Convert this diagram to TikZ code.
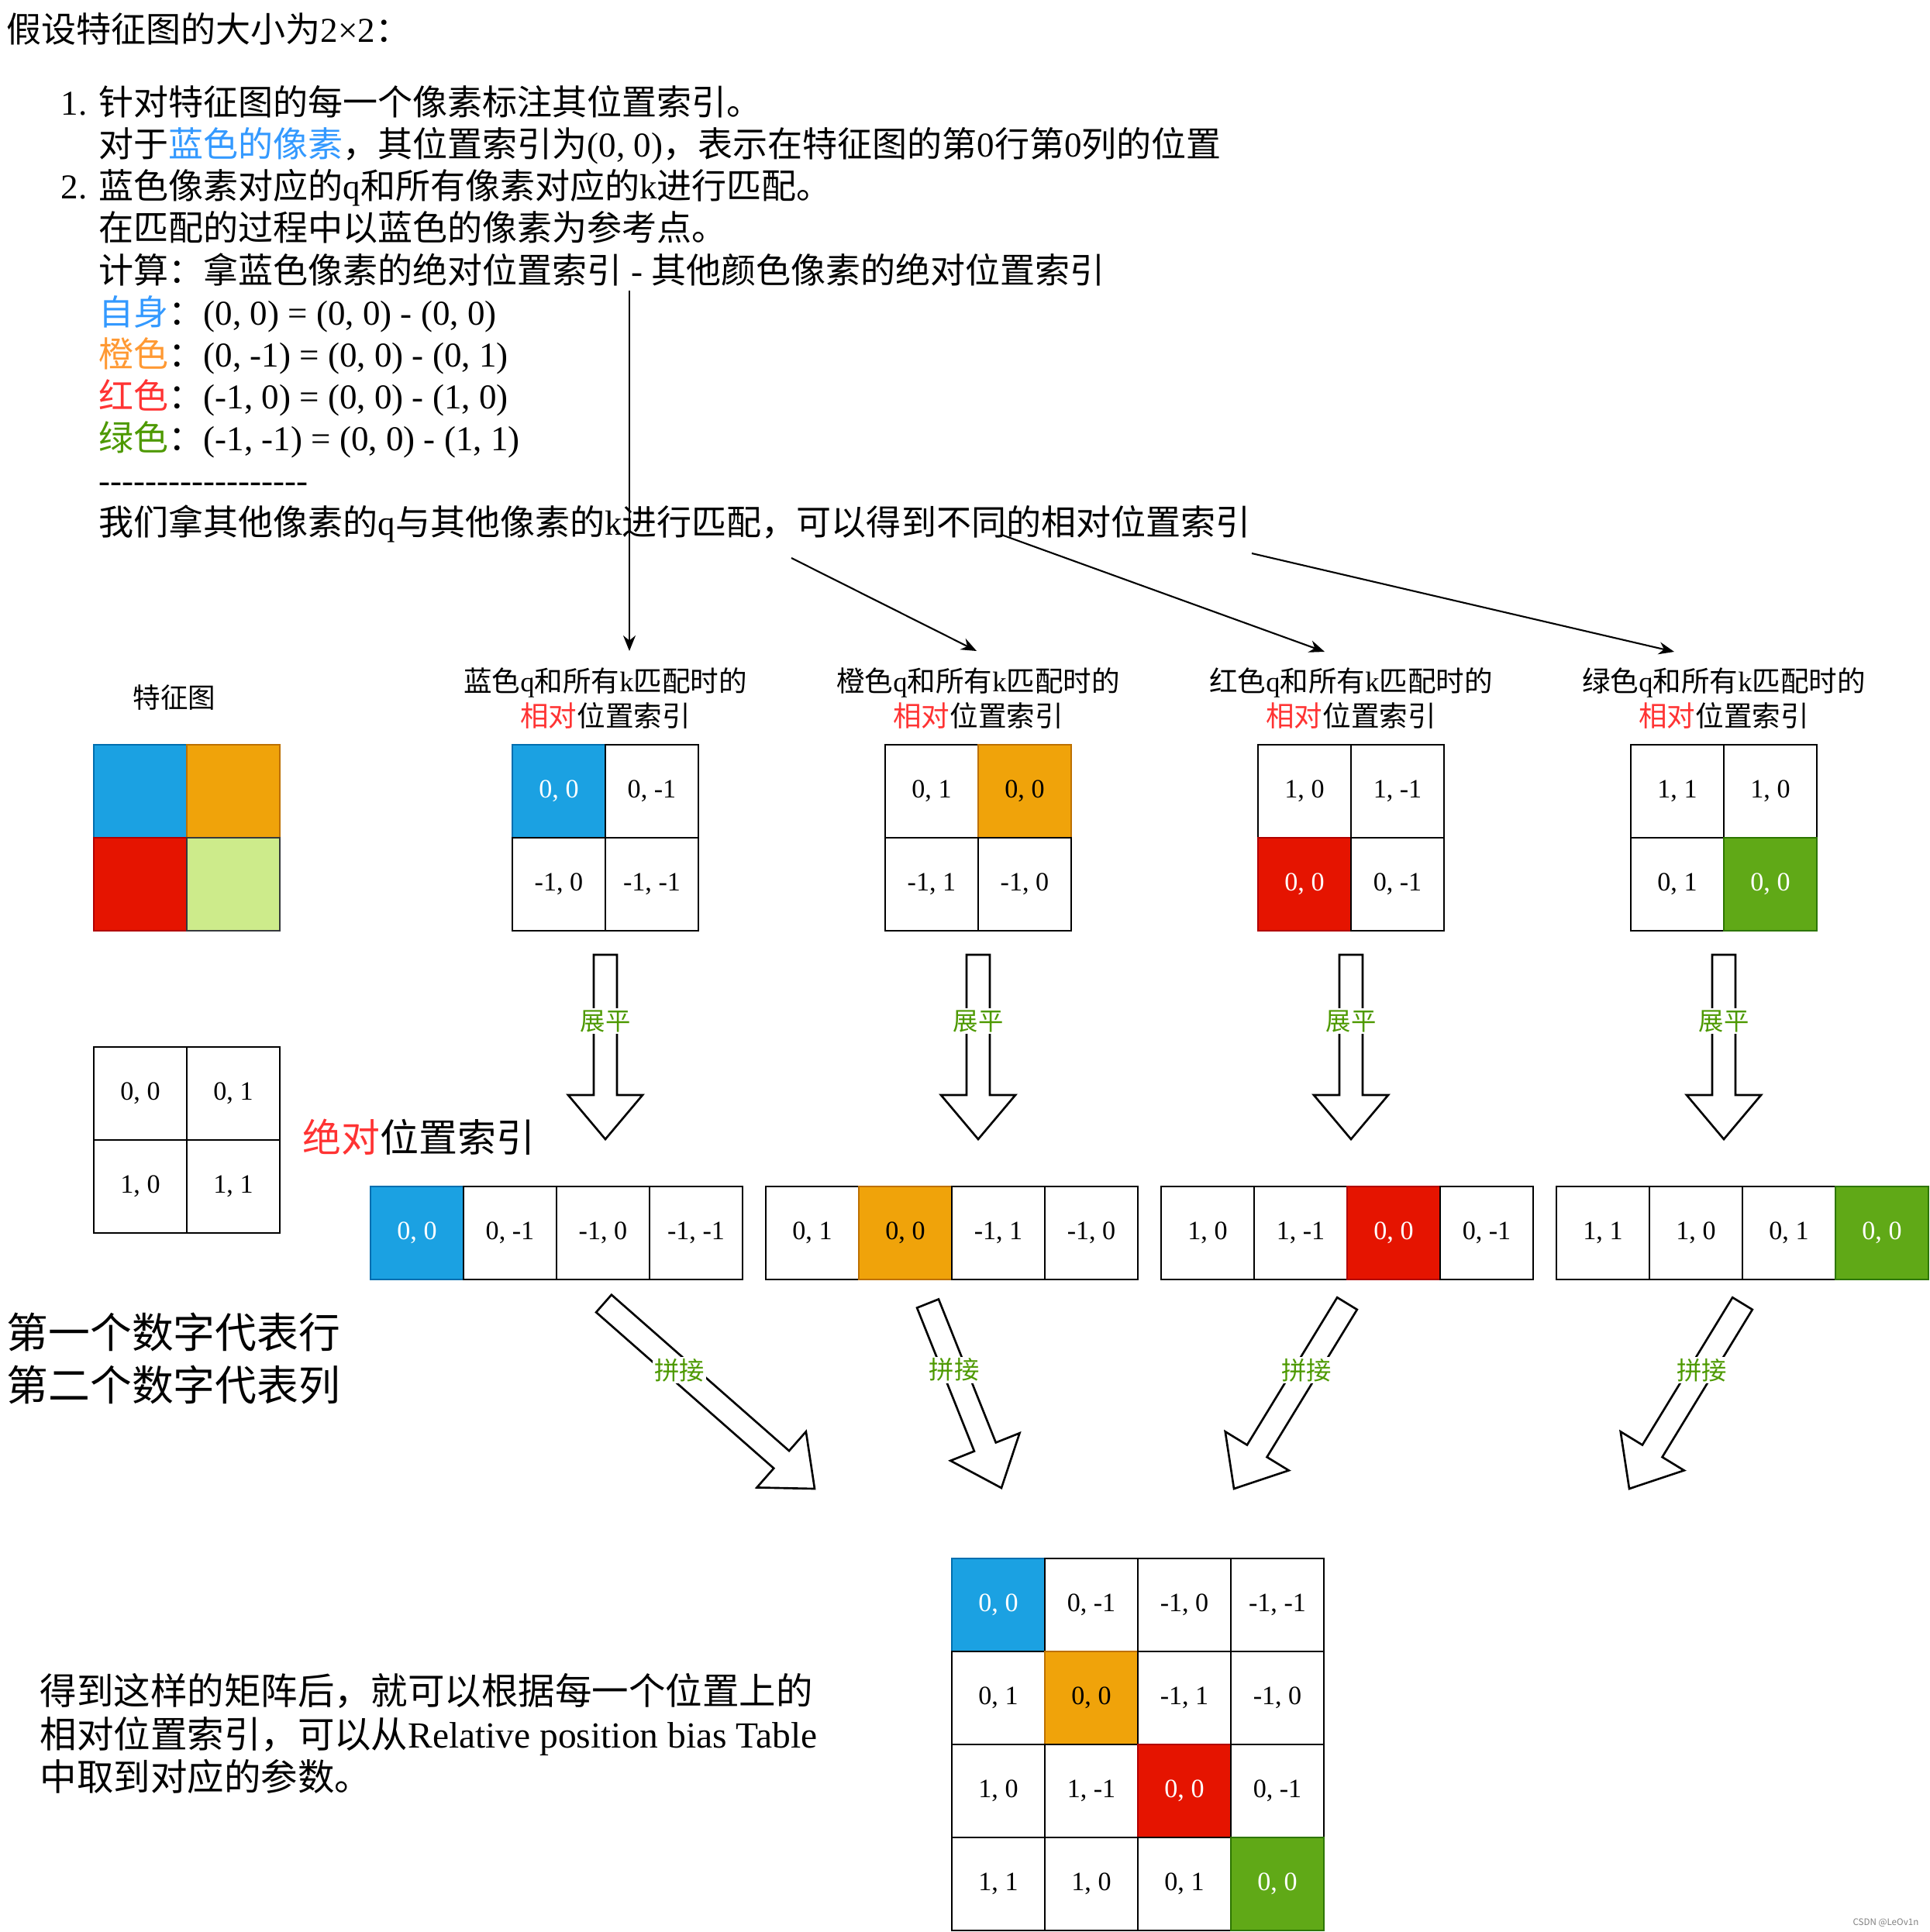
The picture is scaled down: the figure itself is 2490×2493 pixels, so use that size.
\documentclass[tikz,border=0pt]{standalone}
\usepackage{fontspec}
\setmainfont{Noto Sans CJK SC}
\newfontfamily\tnr{Liberation Serif}
\usepackage{xcolor}
\usepackage{tikz}
\usetikzlibrary{arrows.meta,calc}
\definecolor{zblue}{HTML}{3399FF}
\definecolor{zorange}{HTML}{FF9933}
\definecolor{zred}{HTML}{FF3333}
\definecolor{zgreen}{HTML}{4D9900}
\definecolor{F0}{HTML}{1BA1E2}\definecolor{E0}{HTML}{006EAF}\colorlet{T0}{white}
\definecolor{F1}{HTML}{F0A30A}\definecolor{E1}{HTML}{BD7000}\colorlet{T1}{black}
\definecolor{F2}{HTML}{E51400}\definecolor{E2}{HTML}{B20000}\colorlet{T2}{white}
\definecolor{F3}{HTML}{60A917}\definecolor{E3}{HTML}{2D7600}\colorlet{T3}{white}
\definecolor{Lime}{HTML}{CDEB8B}\definecolor{LimeEdge}{HTML}{36393D}
\newcommand\en[1]{{\tnr #1}}
\newcommand\fsz[2]{\fontsize{#1}{#2}\selectfont}
\tikzset{
  cell/.style={
    draw, line width=.75pt, minimum size=1.2cm, inner sep=0pt,
    font=\tnr\fsz{9.7}{11}
  },
  hot0/.style={},
  hot1/.style={fill=F#1,draw=E#1,text=T#1},
  swatch/.style={draw, line width=.75pt, minimum size=1.2cm, inner sep=0pt},
  head/.style={align=center, inner sep=0pt, font=\fsz{10.4}{12.8}},
  txt/.style={align=left, anchor=west, inner sep=0pt},
  tag/.style={fill=white, text=zgreen, inner sep=.6pt, font=\fsz{9.2}{11}},
  fat/.style={draw, fill=white, line width=.75pt},
  pointer/.style={-{Stealth[length=2mm,width=1.6mm]},line width=.6pt}
}
% hollow block arrow from #1 (tail) to #2 (tip), label #3
\newcommand\fatarrow[3]{%
  \coordinate (#1h) at ($(#2)!.57cm!(#1)$);
  \draw[fat] ($(#1)!.15cm!90:(#2)$) -- ($(#1h)!.15cm!90:(#2)$)
    -- ($(#1h)!.48cm!90:(#2)$) -- (#2) -- ($(#1h)!.48cm!-90:(#2)$)
    -- ($(#1h)!.15cm!-90:(#2)$) -- ($(#1)!.15cm!-90:(#2)$) -- cycle;
  \node[tag] (#1t) at ($(#1)!.36!(#2)$) {#3};
}

\begin{document}
\begin{tikzpicture}[x=0.01cm,y=-0.01cm]
  \useasboundingbox (0,0) rectangle (2490,2493);

  % explanation text
  \node[txt,font=\fsz{12.8}{15.4}] (title) at (8,37) {假设特征图的大小为\en{2×2}：};
  \node[txt,font=\fsz{12.8}{15.4}] (steps) at (127,405) {%
    \llap{\en{1. }}针对特征图的每一个像素标注其位置索引。\\
    对于{\color{zblue}蓝色的像素}，其位置索引为\en{(0, 0)}，表示在特征图的第\en{0}行第\en{0}列的位置\\
    \llap{\en{2. }}蓝色像素对应的\en{q}和所有像素对应的\en{k}进行匹配。\\
    在匹配的过程中以蓝色的像素为参考点。\\
    计算：拿蓝色像素的绝对位置索引\en{ - }其他颜色像素的绝对位置索引\\
    {\color{zblue}自身}：\en{(0, 0) = (0, 0) - (0, 0)}\\
    {\color{zorange}橙色}：\en{(0, -1) = (0, 0) - (0, 1)}\\
    {\color{zred}红色}：\en{(-1, 0) = (0, 0) - (1, 0)}\\
    {\color{zgreen}绿色}：\en{(-1, -1) = (0, 0) - (1, 1)}\\
    \en{\foreach \n in {1,...,18}{-\kern0pt}}\\
    我们拿其他像素的\en{q}与其他像素的\en{k}进行匹配，可以得到不同的相对位置索引};

  % feature map and absolute index
  \node[font=\fsz{10.1}{12},inner sep=0pt] (fmapname) at (225,900) {特征图};
  \node[swatch,fill=F0,draw=E0] (fmap00) at (181,1021) {};
  \node[swatch,fill=F1,draw=E1] (fmap01) at (301,1021) {};
  \node[swatch,fill=F2,draw=E2] (fmap10) at (181,1141) {};
  \node[swatch,fill=Lime,draw=LimeEdge] (fmap11) at (301,1141) {};
  \foreach \i in {0,1}
    \foreach \j in {0,1}
      \node[cell] (abs\i\j) at (181+120*\j,1411+120*\i) {\i, \j};
  \node[txt,font=\fsz{14.2}{17}] (absname) at (390,1467) {{\color{zred}绝对}位置索引};
  \node[txt,font=\fsz{15.3}{19.1}] (rowcol) at (8,1753) {第一个数字代表行\\第二个数字代表列};

  % relative index per reference pixel
  \foreach \g/\nm in {0/蓝色,1/橙色,2/红色,3/绿色}
    \node[head] (hd\g) at (781+481*\g,901) {\nm\en{q}和所有\en{k}匹配时的\\{\color{zred}相对}位置索引};
  \foreach \g/\rg/\cg in {0/0/0,1/0/1,2/1/0,3/1/1}{
    \foreach \i in {0,1}{
      \foreach \j in {0,1}{
        \pgfmathtruncatemacro\dr{\rg-\i}
        \pgfmathtruncatemacro\dc{\cg-\j}
        \pgfmathtruncatemacro\on{(\i==\rg)&&(\j==\cg)}
        \pgfmathtruncatemacro\k{2*\i+\j}
        \node[cell,hot\on=\g] (rel\g\i\j) at (721+481*\g+120*\j,1021+120*\i) {\dr, \dc};
        \node[cell,hot\on=\g] (flat\g\k) at (538+510*\g+120*\k,1591) {\dr, \dc};
        \node[cell,hot\on=\g] (big\g\k) at (1288+120*\k,2071+120*\g) {\dr, \dc};
      }
    }
    \coordinate (fs\g) at (781+481*\g,1232);
    \coordinate (fe\g) at (781+481*\g,1470);
    \fatarrow{fs\g}{fe\g}{展平}
  }

  % concatenation
  \coordinate (cs0) at (779,1682);  \coordinate (ce0) at (1051,1921);
  \coordinate (cs1) at (1197,1682); \coordinate (ce1) at (1292,1920);
  \coordinate (cs2) at (1738,1682); \coordinate (ce2) at (1592,1921);
  \coordinate (cs3) at (2248,1682); \coordinate (ce3) at (2102,1921);
  \foreach \k in {0,...,3}{\fatarrow{cs\k}{ce\k}{拼接}}

  % pointers from the text
  \coordinate (m0) at (812,375);  \coordinate (n0) at (812,840);
  \coordinate (m1) at (1021,720); \coordinate (n1) at (1260,840);
  \coordinate (m2) at (1292,690); \coordinate (n2) at (1709,841);
  \coordinate (m3) at (1615,714); \coordinate (n3) at (2160,841);
  \foreach \k in {0,...,3}
    \draw[pointer] (m\k) -- (n\k);

  \node[txt,font=\fsz{13.5}{15.9}] (summary) at (51,2237) {%
    得到这样的矩阵后，就可以根据每一个位置上的\\
    相对位置索引，可以从\en{Relative position bias Table}\\
    中取到对应的参数。};
  \node[font=\fsz{3.3}{4},text=gray,anchor=east,inner sep=0pt] (mark) at (2476,2481) {CSDN @LeOv1n};
\end{tikzpicture}
\end{document}
